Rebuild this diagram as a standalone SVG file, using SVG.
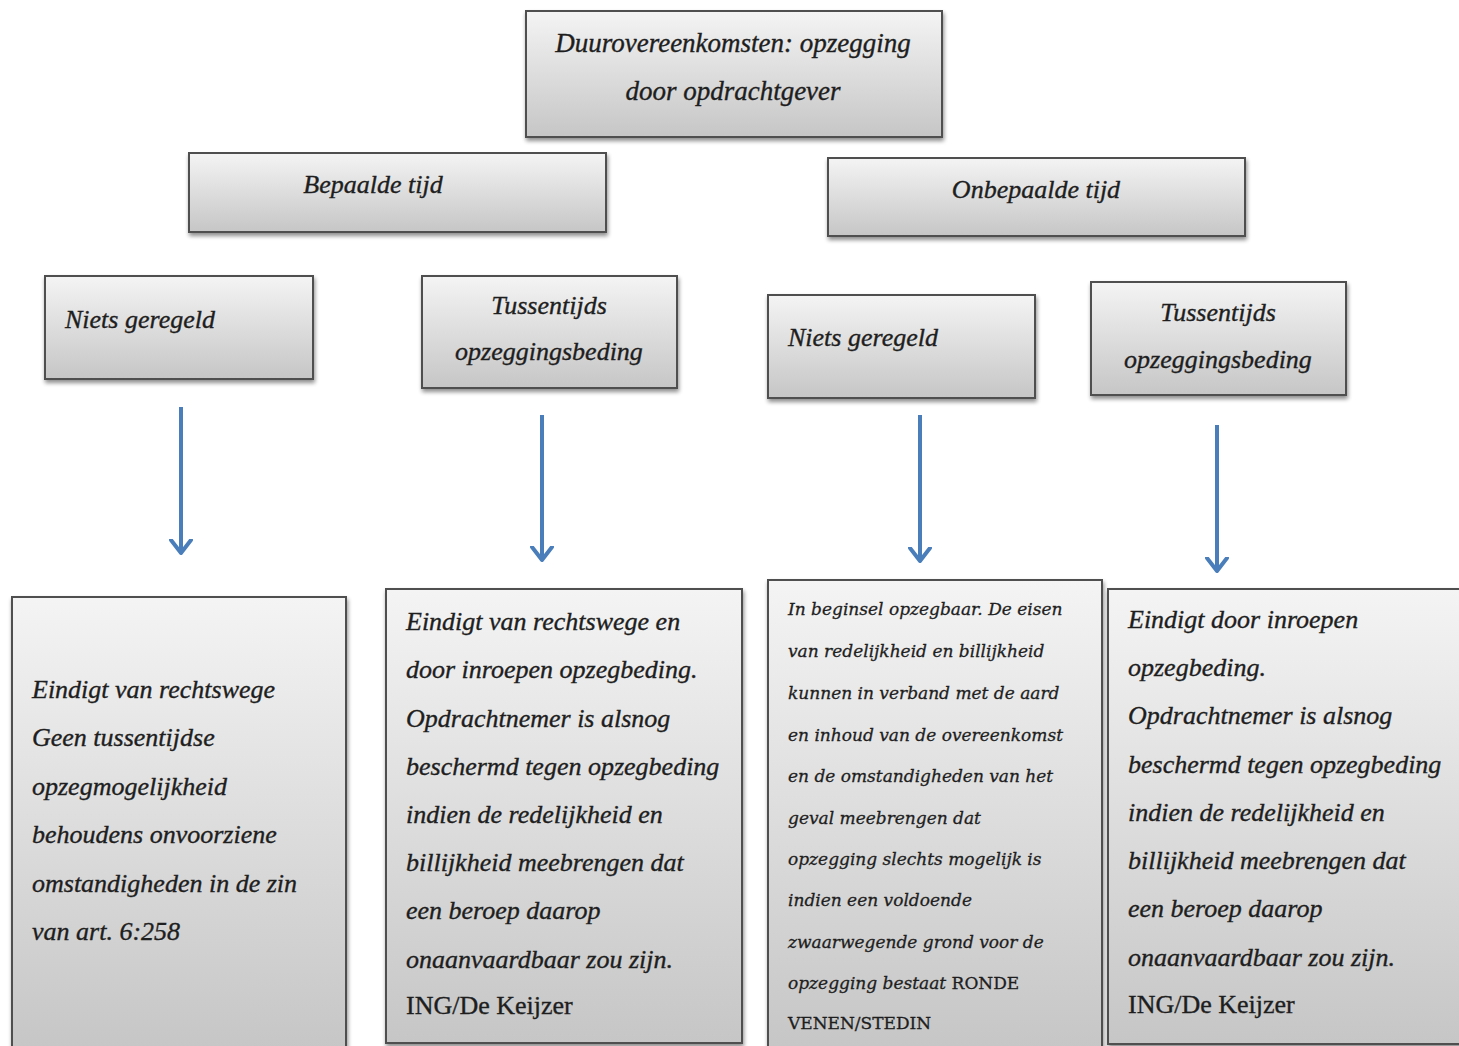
<svg xmlns="http://www.w3.org/2000/svg" width="1459" height="1046" viewBox="0 0 1459 1046">
<defs>
<linearGradient id="g" x1="0" y1="0" x2="0" y2="1">
<stop offset="0" stop-color="#f4f4f4"/>
<stop offset="1" stop-color="#c6c6c6"/>
</linearGradient>
<filter id="sh" x="-5%" y="-5%" width="115%" height="120%">
<feGaussianBlur in="SourceAlpha" stdDeviation="2"/>
<feOffset dx="1" dy="3" result="o"/>
<feComponentTransfer><feFuncA type="linear" slope="0.45"/></feComponentTransfer>
<feMerge><feMergeNode/><feMergeNode in="SourceGraphic"/></feMerge>
</filter>
<marker id="ah" markerWidth="16" markerHeight="24" refX="14" refY="12" orient="auto" markerUnits="userSpaceOnUse" viewBox="0 0 16 24">
<path d="M1 2 L14 12 L1 22" fill="none" stroke="#4a7ebb" stroke-width="4" stroke-linecap="round" stroke-linejoin="round"/>
</marker>
</defs>
<style>
.box{fill:url(#g);stroke:#505050;stroke-width:2;filter:url(#sh)}
.t{font-family:"Liberation Serif","DejaVu Serif",serif;font-style:italic;font-size:26px;fill:#1e1e1e;stroke:#1e1e1e;stroke-width:0.35}
.c{text-anchor:middle}
.s{font-family:"DejaVu Serif","Liberation Serif",serif;font-style:italic;font-size:17px;fill:#1e1e1e;stroke:#1e1e1e;stroke-width:0.3}
.u{font-style:normal}
.arr{stroke:#4a7ebb;stroke-width:4;fill:none}
</style>
<rect width="1459" height="1046" fill="#ffffff"/>

<g id="n-root">
<rect class="box" x="526" y="11" width="416" height="126"/>
<text class="t c" x="733" y="52" style="font-size:27px">Duurovereenkomsten: opzegging</text>
<text class="t c" x="733" y="100" style="font-size:27px">door opdrachtgever</text>
</g>

<g id="n-bepaald">
<rect class="box" x="189" y="153" width="417" height="79"/>
<text class="t c" x="373" y="193">Bepaalde tijd</text>
</g>

<g id="n-onbepaald">
<rect class="box" x="828" y="158" width="417" height="78"/>
<text class="t c" x="1036" y="198">Onbepaalde tijd</text>
</g>

<g id="n-niets1">
<rect class="box" x="45" y="276" width="268" height="103"/>
<text class="t" x="65" y="328">Niets geregeld</text>
</g>

<g id="n-tuss1">
<rect class="box" x="422" y="276" width="255" height="112"/>
<text class="t c" x="549" y="314">Tussentijds</text>
<text class="t c" x="549" y="360">opzeggingsbeding</text>
</g>

<g id="n-niets2">
<rect class="box" x="768" y="295" width="267" height="103"/>
<text class="t" x="788" y="346">Niets geregeld</text>
</g>

<g id="n-tuss2">
<rect class="box" x="1091" y="282" width="255" height="113"/>
<text class="t c" x="1218" y="321">Tussentijds</text>
<text class="t c" x="1218" y="368">opzeggingsbeding</text>
</g>

<g id="connectors">
<line class="arr" x1="181" y1="407" x2="181" y2="553" marker-end="url(#ah)"/>
<line class="arr" x1="542" y1="415" x2="542" y2="560" marker-end="url(#ah)"/>
<line class="arr" x1="920" y1="415" x2="920" y2="561" marker-end="url(#ah)"/>
<line class="arr" x1="1217" y1="425" x2="1217" y2="571" marker-end="url(#ah)"/>
</g>

<g id="n-res1">
<rect class="box" x="12" y="597" width="334" height="452"/>
<text class="t" x="32" y="698">Eindigt van rechtswege</text>
<text class="t" x="32" y="746">Geen tussentijdse</text>
<text class="t" x="32" y="795">opzegmogelijkheid</text>
<text class="t" x="32" y="843">behoudens onvoorziene</text>
<text class="t" x="32" y="892">omstandigheden in de zin</text>
<text class="t" x="32" y="940">van art. 6:258</text>
</g>

<g id="n-res2">
<rect class="box" x="386" y="589" width="356" height="454"/>
<text class="t" x="406" y="630">Eindigt van rechtswege en</text>
<text class="t" x="406" y="678">door inroepen opzegbeding.</text>
<text class="t" x="406" y="727">Opdrachtnemer is alsnog</text>
<text class="t" x="406" y="775">beschermd tegen opzegbeding</text>
<text class="t" x="406" y="823">indien de redelijkheid en</text>
<text class="t" x="406" y="871">billijkheid meebrengen dat</text>
<text class="t" x="406" y="919">een beroep daarop</text>
<text class="t" x="406" y="968">onaanvaardbaar zou zijn.</text>
<text class="t u" x="406" y="1014">ING/De Keijzer</text>
</g>

<g id="n-res3">
<rect class="box" x="768" y="580" width="334" height="469"/>
<text class="s" x="788" y="615">In beginsel opzegbaar.  De eisen</text>
<text class="s" x="788" y="657">van redelijkheid en billijkheid</text>
<text class="s" x="788" y="699">kunnen in verband met de aard</text>
<text class="s" x="788" y="741">en inhoud van de overeenkomst</text>
<text class="s" x="788" y="782">en de omstandigheden van het</text>
<text class="s" x="788" y="824">geval meebrengen dat</text>
<text class="s" x="788" y="865">opzegging  slechts mogelijk is</text>
<text class="s" x="788" y="906">indien een voldoende</text>
<text class="s" x="788" y="948">zwaarwegende grond voor de</text>
<text class="s" x="788" y="989">opzegging  bestaat <tspan class="u">RONDE</tspan></text>
<text class="s u" x="788" y="1029">VENEN/STEDIN</text>
</g>

<g id="n-res4">
<rect class="box" x="1108" y="589" width="353" height="455"/>
<text class="t" x="1128" y="628">Eindigt door inroepen</text>
<text class="t" x="1128" y="676">opzegbeding.</text>
<text class="t" x="1128" y="724">Opdrachtnemer is alsnog</text>
<text class="t" x="1128" y="773">beschermd tegen opzegbeding</text>
<text class="t" x="1128" y="821">indien de redelijkheid en</text>
<text class="t" x="1128" y="869">billijkheid meebrengen dat</text>
<text class="t" x="1128" y="917">een beroep daarop</text>
<text class="t" x="1128" y="966">onaanvaardbaar zou zijn.</text>
<text class="t u" x="1128" y="1013">ING/De Keijzer</text>
</g>
</svg>
